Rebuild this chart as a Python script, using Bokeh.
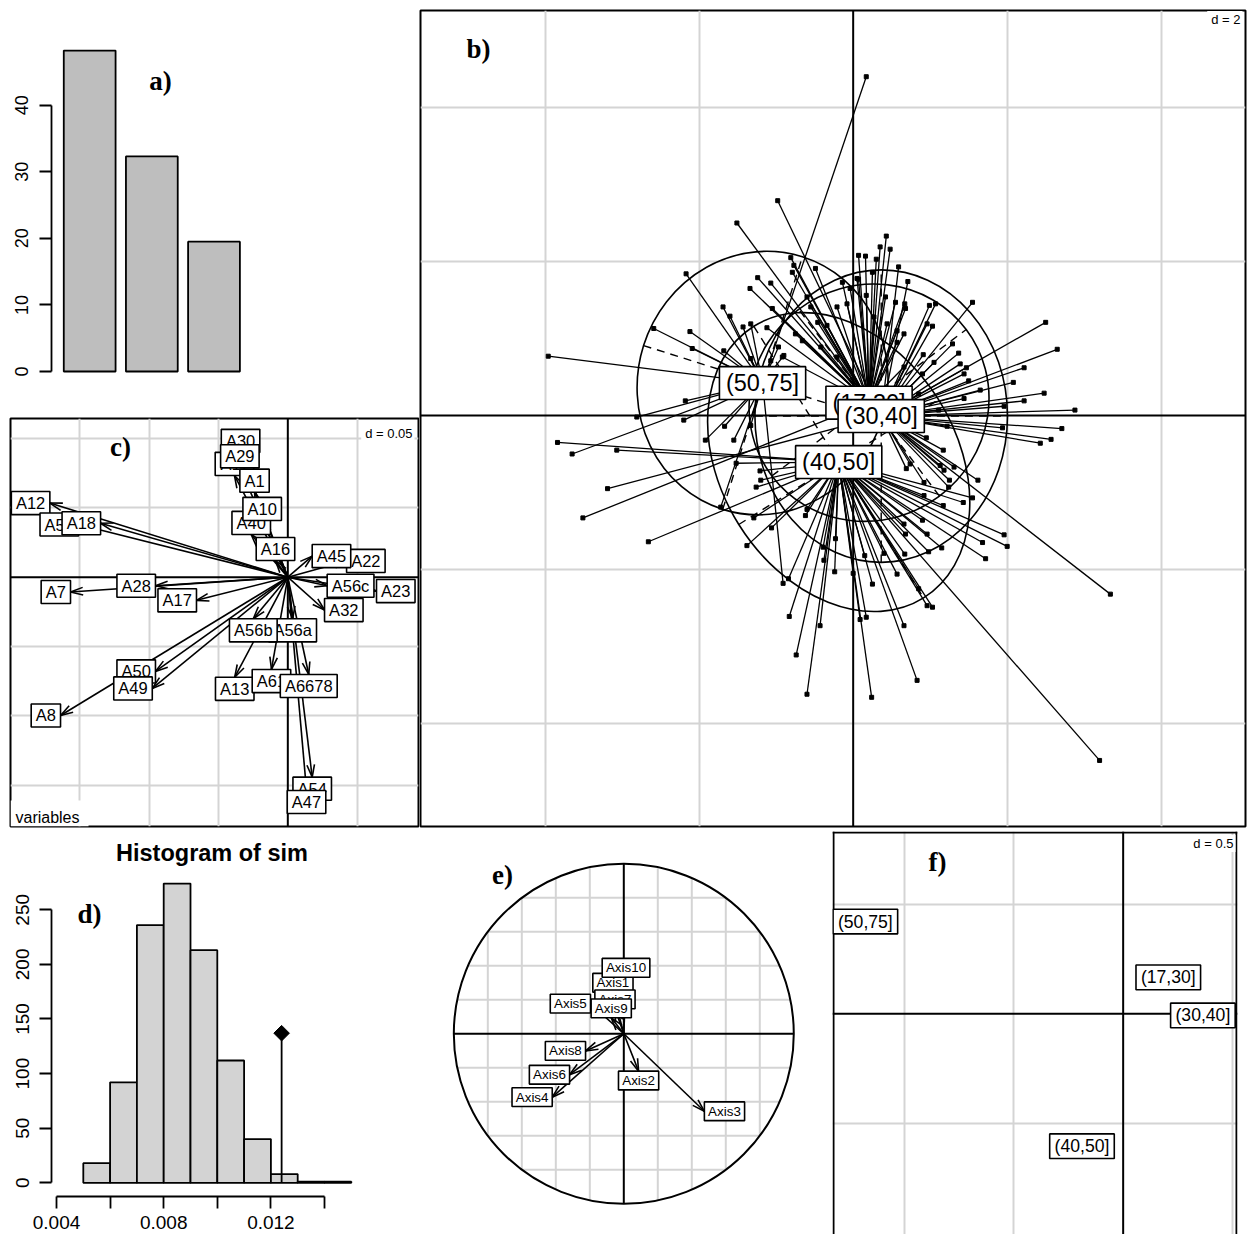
import math
import numpy as np
from bokeh.plotting import figure
from bokeh.layouts import column, row
from bokeh.models import Range1d, Span, FixedTicker, Label, Grid
from bokeh.core.properties import value
from bokeh.embed import file_html
from bokeh.resources import INLINE

SANS = "Liberation Sans"
SERIF = "Liberation Serif"
GRID_COL = "#d4d4d4"

# ---------------- a) eigenvalues, % of inertia ----------------
eig_pct = [48.2, 32.3, 19.5]
eig_ticks = [0, 10, 20, 30, 40]

# ---------------- b) / f) age classes ----------------
classes = ["(17,30]", "(30,40]", "(40,50]", "(50,75]"]
class_x = [0.206, 0.364, -0.188, -1.177]
class_y = [0.166, -0.008, -0.605, 0.421]
ell_a = [1.58, 1.64, 2.08, 1.62]
ell_b = [1.52, 1.90, 1.53, 1.72]
ell_deg = [37.0, 0.0, -58.0, -17.5]

g1730_x = [-1.51, -3.51, -1.34, -1.24, -1.07, -0.81, -0.77, -0.79, -0.49, -0.55, -0.46, -0.34, -0.21, -0.08,
           -0.14, 0.05, 0.07, 0.43, 0.35, 0.48, 0.16, 0.30, 0.25, 0.07, 0.67, 0.68, 0.55, 0.42, 0.66, 0.44,
           0.57, -0.75, -0.92, -1.05, -0.04, 0.17, 0.27, 0.57, 0.66, -0.21, -0.42, -0.66, -0.60, -1.12]
g1730_y = [2.50, -1.33, 1.65, 1.79, 1.72, 2.05, 1.95, 1.86, 1.91, 1.41, 1.21, 1.17, 1.41, 1.45,
           1.73, 1.78, 2.08, 2.33, 2.19, 2.16, 2.07, 2.03, 1.86, 1.77, 1.45, 1.39, 1.47, 1.54, 1.06, 1.19,
           0.95, 1.06, 0.76, 1.39, 1.65, 1.56, 1.28, 1.10, 0.63, 0.76, 0.89, 0.97, 1.54, 1.14]

g3040_x = [-0.98, 3.34, 1.55, 2.50, 2.65, 2.22, 2.08, 2.48, 2.22, 2.88, 2.71, 2.57, 2.43, 1.94, 1.22, 1.17,
           1.96, 1.65, 1.44, 1.50, 1.47, 1.39, 1.37, 1.29, 1.11, 1.05, 0.91, -3.19, 1.62, 1.25, 0.69, 1.18,
           0.92, 1.13, 1.24, 1.07, 0.99, 0.71, 0.59, 1.03, 0.96, 1.44, 0.95, 1.31, 0.74, 0.85, 0.90]
g3040_y = [2.79, -2.32, 1.47, 1.21, 0.86, 0.62, 0.43, 0.29, 0.19, 0.07, -0.17, -0.31, -0.36, -0.16, -0.14, -0.45,
           0.12, 0.33, 0.22, 0.45, 0.62, 0.67, 0.81, 0.93, 0.07, 0.69, 0.79, -0.95, -0.84, -0.84, -0.69, -0.71,
           -0.87, -0.65, -0.93, 1.45, 1.43, 1.74, 1.93, 1.16, 1.19, 0.54, -0.29, -0.67, -0.63, 0.28, 0.54]

g4050_x = [-3.84, -3.07, -2.66, 3.20, -0.60, -0.74, -0.83, -0.43, -0.84, 0.09, 0.17, 0.24, 0.83, 0.66, 1.03,
           0.96, 0.85, 0.25, 0.00, -0.24, 0.57, -0.23, -0.39, -0.62, -0.60, -1.06, -1.29, -1.52, -1.21, -1.20,
           -1.26, 1.72, 2.00, 1.96, 1.68, 1.15, 0.98, 0.96, 0.90, 0.66, 0.40, 0.15, 1.43, 1.17, 1.55, -1.38,
           0.92, 0.68, 0.67, -0.38]
g4050_y = [-0.35, -0.45, -1.64, -4.48, -3.62, -3.11, -2.61, -2.73, -2.12, -2.65, -2.62, -3.66, -3.44, -2.73, -2.49,
           -2.47, -2.25, -2.19, -2.05, -2.03, -2.06, -1.60, -1.71, -1.30, -1.22, -1.46, -1.33, -0.62, -0.72, -0.84,
           -0.93, -1.86, -1.70, -1.55, -1.65, -1.72, -1.77, -1.54, -1.36, -1.41, -1.79, -1.82, -1.13, -1.17, -1.07,
           -1.69, -1.04, -1.54, -1.80, -1.88]

g5075_x = [0.17, -3.96, -2.17, -2.59, -2.12, -1.69, -1.60, -1.43, -1.33, -1.68, -2.09, -1.33, -2.18, -2.81,
           -3.65, -2.20, -1.92, -1.67, -1.55, -1.72, -0.91, -1.33, -1.07, -0.90, -0.97]
g5075_y = [4.40, 0.77, 1.84, 1.13, 1.09, 1.41, 1.29, 1.15, 1.19, 0.84, 0.87, 0.74, 0.19, -0.02,
           -0.50, -0.06, -0.32, -0.14, -0.32, -1.19, -2.18, -0.13, 0.71, 0.78, 0.89]

# ---------------- c) variable loadings ----------------
var_names = ["A30", "A11", "A29", "A1", "A40", "A10", "A16", "A22", "A45", "A56c", "A23", "A32", "A56a", "A56b",
             "A13", "A61", "A6678", "A54", "A47", "A50", "A49", "A8", "A7", "A28", "A17", "A12", "A57", "A18"]
var_x = [-0.0341, -0.0385, -0.0346, -0.0240, -0.0264, -0.0185, -0.0089, 0.0424, 0.0176, 0.0284, 0.0640, 0.0265,
         0.0035, -0.0249, -0.0383, -0.0118, 0.0151, 0.0176, 0.0135, -0.0955, -0.0978, -0.1640, -0.1568, -0.0955,
         -0.0659, -0.1717, -0.1510, -0.1351]
var_y = [0.0900, 0.0734, 0.0789, 0.0613, 0.0308, 0.0409, 0.0120, 0.0117, 0.0152, -0.0062, -0.0100, -0.0237,
         -0.0300, -0.0300, -0.0722, -0.0666, -0.0702, -0.1443, -0.1539, -0.0680, -0.0803, -0.0998, -0.0107,
         -0.0062, -0.0167, 0.0535, 0.0380, 0.0389]

# ---------------- d) permutation test ----------------
sim_edges = [0.005, 0.006, 0.007, 0.008, 0.009, 0.010, 0.011, 0.012, 0.013, 0.014, 0.015]
sim_counts = [18, 92, 236, 274, 213, 112, 40, 8, 1, 1]
sim_obs = 0.0124
sim_xticks = [0.004, 0.008, 0.012]
sim_xminor = [0.006, 0.010, 0.014]
sim_yticks = [0, 50, 100, 150, 200, 250]

# ---------------- e) projected inertia axes ----------------
axis_names = ["Axis1", "Axis2", "Axis3", "Axis4", "Axis5", "Axis6", "Axis7", "Axis8", "Axis9", "Axis10"]
axis_x = [-0.064, 0.087, 0.474, -0.421, -0.196, -0.319, -0.052, -0.225, -0.074, 0.013]
axis_y = [0.245, -0.220, -0.456, -0.373, 0.177, -0.241, 0.147, -0.101, 0.094, 0.333]
corr_grid = [-0.8, -0.6, -0.4, -0.2, 0.2, 0.4, 0.6, 0.8]

# ---------------- helpers ----------------
ARIAL_EM = {" ": 0.278, "(": 0.333, ")": 0.333, ",": 0.278, "]": 0.278, "=": 0.584, ".": 0.278,
            "A": 0.667, "x": 0.5, "i": 0.222, "s": 0.5, "a": 0.556, "b": 0.556, "c": 0.5, "d": 0.556}


def text_em(s):
    return sum(ARIAL_EM.get(ch, 0.556) for ch in s)


def base_fig(w, h, xr, yr, left=0, right=0, top=0, bottom=0, xloc=None, yloc=None):
    p = figure(width=w, height=h, x_range=Range1d(*xr), y_range=Range1d(*yr),
               output_backend="svg", toolbar_location=None,
               x_axis_location=xloc, y_axis_location=yloc,
               min_border_left=left, min_border_right=right,
               min_border_top=top, min_border_bottom=bottom,
               background_fill_color="white", border_fill_color="white")
    if "frame_align" in p.properties():
        p.frame_align = False
    p.outline_line_color = None
    p.grid.visible = False
    return p


def add_grid(p, xticks, yticks):
    for dim, ticks in ((0, xticks), (1, yticks)):
        g = Grid(dimension=dim, ticker=FixedTicker(ticks=ticks),
                 grid_line_color=GRID_COL, grid_line_width=2)
        p.add_layout(g)


def add_zero_axes(p):
    for dim in ("width", "height"):
        p.add_layout(Span(location=0, dimension=dim, line_color="black",
                          line_width=2, level="underlay"))


def style_axis(ax, ticks, bounds, size, minor=None, standoff=6):
    ax.ticker = FixedTicker(ticks=ticks, minor_ticks=minor or [])
    ax.bounds = bounds
    ax.axis_line_color = "black"
    ax.axis_line_width = 1.8
    ax.major_tick_line_color = "black"
    ax.major_tick_line_width = 1.8
    ax.major_tick_out = 12
    ax.major_tick_in = 0
    ax.minor_tick_line_color = "black"
    ax.minor_tick_line_width = 1.8
    ax.minor_tick_out = 12
    ax.minor_tick_in = 0
    ax.major_label_text_font = SANS
    ax.major_label_text_font_size = size
    ax.major_label_text_color = "black"
    ax.major_label_standoff = standoff


def tag(p, text, x, y):
    p.add_layout(Label(x=x, y=y, text=text, text_font=SERIF, text_font_style="bold",
                       text_font_size="27px", text_align="center", text_baseline="middle",
                       text_color="black"))


def corner_note(p, text, x_right, y_mid, scale, font_px=13):
    w = (font_px * text_em(text) + 6) / scale
    h = (font_px + 4) / scale
    p.rect(x=[x_right - w / 2 + 2 / scale], y=[y_mid], width=w, height=h,
           fill_color="white", line_color=None)
    p.text(x=[x_right], y=[y_mid], text=[text], text_align="right", text_baseline="middle",
           text_font=value(SANS), text_font_size=f"{font_px}px", text_color="black")


def boxed_labels(p, xs, ys, texts, font_px, scale, place="center"):
    for x, y, t in zip(xs, ys, texts):
        w = font_px * text_em(" " + t + " ") / scale
        h = 1.4 * font_px / scale
        cx, cy = x, y
        if place == "circ":
            if x > y and x > -y:
                cx = x + w / 2
            elif x > y and x <= -y:
                cy = y - h / 2
            elif x <= y and x <= -y:
                cx = x - w / 2
            else:
                cy = y + h / 2
        p.rect(x=[cx], y=[cy], width=w, height=h, fill_color="white",
               line_color="black", line_width=1.6)
        p.text(x=[cx], y=[cy], text=[t], text_align="center", text_baseline="middle",
               text_font=value(SANS), text_font_size=f"{font_px}px", text_color="black")


def arrows(p, xs, ys, head_len, half_deg=17, width=1.6):
    xs = np.asarray(xs, dtype=float)
    ys = np.asarray(ys, dtype=float)
    p.segment(x0=np.zeros_like(xs), y0=np.zeros_like(ys), x1=xs, y1=ys,
              line_color="black", line_width=width)
    ang = np.arctan2(ys, xs)
    h = math.radians(half_deg)
    hx = np.concatenate([xs - head_len * np.cos(ang - h), xs - head_len * np.cos(ang + h)])
    hy = np.concatenate([ys - head_len * np.sin(ang - h), ys - head_len * np.sin(ang + h)])
    p.segment(x0=np.concatenate([xs, xs]), y0=np.concatenate([ys, ys]), x1=hx, y1=hy,
              line_color="black", line_width=width)


# ================= a) eigenvalue barplot =================
fa = base_fig(419, 417, (-0.037, 6.990), (-2.854, 52.72), left=51, right=4, top=20, bottom=27, yloc="left")
bar_x = [0.7 + 1.2 * i for i in range(len(eig_pct))]
fa.vbar(x=bar_x, top=eig_pct, bottom=0, width=1.0, fill_color="#bebebe",
        line_color="black", line_width=1.8)
ya = fa.yaxis[0]
style_axis(ya, eig_ticks, (0, 40), "18px", standoff=11)
ya.major_label_orientation = "vertical"
tag(fa, "a)", 2.067, 43.56)

# ================= c) variables =================
sc = 1386.0
fc = base_fig(419, 413, (-0.2001, 0.0943), (-0.1799, 0.1145), left=10, right=1, top=1, bottom=4)
fc.outline_line_color = "black"
fc.outline_line_width = 2
add_grid(fc, [-0.15, -0.10, -0.05, 0.05], [-0.15, -0.10, -0.05, 0.05, 0.10])
add_zero_axes(fc)
arrows(fc, var_x, var_y, 13 / sc)
boxed_labels(fc, var_x, var_y, var_names, 16.5, sc, place="circ")
fc.quad(left=[-0.2001], right=[-0.1438], bottom=[-0.1799], top=[-0.1611],
        fill_color="white", line_color=None)
fc.text(x=[-0.1965], y=[-0.1734], text=["variables"], text_align="left", text_baseline="middle",
        text_font=value(SANS), text_font_size="16px", text_color="black")
corner_note(fc, "d = 0.05", 0.0900, 0.1037, sc)
tag(fc, "c)", -0.1207, 0.0936)

# ================= b) individuals by class =================
sb = 77.0
fb = base_fig(831, 830, (-5.619, 5.095), (-5.338, 5.260), left=1, right=5, top=10, bottom=4)
fb.outline_line_color = "black"
fb.outline_line_width = 2
add_grid(fb, [-4, -2, 2, 4], [-4, -2, 2, 4])
add_zero_axes(fb)

groups_x = [g1730_x, g3040_x, g4050_x, g5075_x]
groups_y = [g1730_y, g3040_y, g4050_y, g5075_y]
px, py, cx, cy = [], [], [], []
for gx, gy, ccx, ccy in zip(groups_x, groups_y, class_x, class_y):
    px += gx
    py += gy
    cx += [ccx] * len(gx)
    cy += [ccy] * len(gy)
fb.segment(x0=px, y0=py, x1=cx, y1=cy, line_color="black", line_width=1.3)
fb.scatter(px, py, marker="square", size=4, fill_color="black", line_color="black")

ell_rad = [math.radians(d) for d in ell_deg]
fb.ellipse(x=class_x, y=class_y, width=[2 * a for a in ell_a], height=[2 * b for b in ell_b],
           angle=ell_rad, fill_color=None, line_color="black", line_width=1.6)
dx0, dy0, dx1, dy1 = [], [], [], []
for x0, y0, a, b, t in zip(class_x, class_y, ell_a, ell_b, ell_rad):
    ux, uy = math.cos(t), math.sin(t)
    vx, vy = -math.sin(t), math.cos(t)
    dx0 += [x0 - a * ux, x0 - b * vx]
    dy0 += [y0 - a * uy, y0 - b * vy]
    dx1 += [x0 + a * ux, x0 + b * vx]
    dy1 += [y0 + a * uy, y0 + b * vy]
fb.segment(x0=dx0, y0=dy0, x1=dx1, y1=dy1, line_color="black", line_width=1.4, line_dash="8 6")
boxed_labels(fb, class_x, class_y, classes, 23.5, sb, place="center")
corner_note(fb, "d = 2", 5.03, 5.143, sb)
tag(fb, "b)", -4.866, 4.766)

# ================= d) histogram of simulated values =================
fd = base_fig(420, 404, (0.0019104, 0.0173955), (-47.35, 322.6), left=0, right=5, top=0, bottom=0,
              xloc="below", yloc="left")
fd.quad(left=sim_edges[:-1], right=sim_edges[1:], bottom=0, top=sim_counts,
        fill_color="#d3d3d3", line_color="black", line_width=1.8)
obs_h = max(sim_counts) / 2
fd.segment(x0=[sim_obs], y0=[0], x1=[sim_obs], y1=[obs_h], line_color="black", line_width=1.8)
fd.scatter([sim_obs], [obs_h], marker="square", size=11, angle=math.pi / 4,
           fill_color="black", line_color="black")
xd = fd.xaxis[0]
style_axis(xd, sim_xticks, (0.004, 0.014), "19px", minor=sim_xminor, standoff=8)
xd.fixed_location = -12.55
yd = fd.yaxis[0]
style_axis(yd, sim_yticks, (0, 250), "19px", standoff=10)
yd.major_label_orientation = "vertical"
yd.fixed_location = 0.0038134
fd.add_layout(Label(x=0.009802, y=301.6, text="Histogram of sim", text_font=SANS,
                    text_font_style="bold", text_font_size="23.5px", text_align="center",
                    text_baseline="middle", text_color="black"))
tag(fd, "d)", 0.005231, 245.7)

# ================= e) correlation circle =================
se = 170.0
fe = base_fig(410, 404, (-1.196, 1.216), (-1.181, 1.196))
half = [math.sqrt(1 - k * k) for k in corr_grid]
fe.segment(x0=corr_grid, y0=[-h for h in half], x1=corr_grid, y1=half,
           line_color=GRID_COL, line_width=2)
fe.segment(x0=[-h for h in half], y0=corr_grid, x1=half, y1=corr_grid,
           line_color=GRID_COL, line_width=2)
fe.segment(x0=[-1, 0], y0=[0, -1], x1=[1, 0], y1=[0, 1], line_color="black", line_width=2)
fe.circle(x=[0], y=[0], radius=1, fill_color=None, line_color="black", line_width=2)
arrows(fe, axis_x, axis_y, 13 / se)
boxed_labels(fe, axis_x, axis_y, axis_names, 13.4, se, place="circ")
tag(fe, "e)", -0.7135, 0.937)

# ================= f) class centroids =================
sf = 219.0
f_x = (-1.327, 0.522)
f_y = (-1.008, 0.832)
ff = base_fig(420, 404, f_x, f_y, left=2, right=13, top=1, bottom=0)
add_grid(ff, [-1.0, -0.5, 0.5], [-0.5, 0.5])
add_zero_axes(ff)
eps = 1 / sf
ff.segment(x0=[f_x[0] + eps, f_x[0], f_x[1] - eps], y0=[f_y[0], f_y[1] - eps, f_y[0]],
           x1=[f_x[0] + eps, f_x[1], f_x[1] - eps], y1=[f_y[1], f_y[1] - eps, f_y[1]],
           line_color="black", line_width=2)
boxed_labels(ff, class_x, class_y, classes, 17.6, sf, place="center")
corner_note(ff, "d = 0.5", 0.5037, 0.7776, sf)
tag(ff, "f)", -0.848, 0.691)

layout = column(row(column(fa, fc), fb), row(fd, fe, ff))
open("out.html", "w").write(file_html(layout, INLINE, title="BCA"))
